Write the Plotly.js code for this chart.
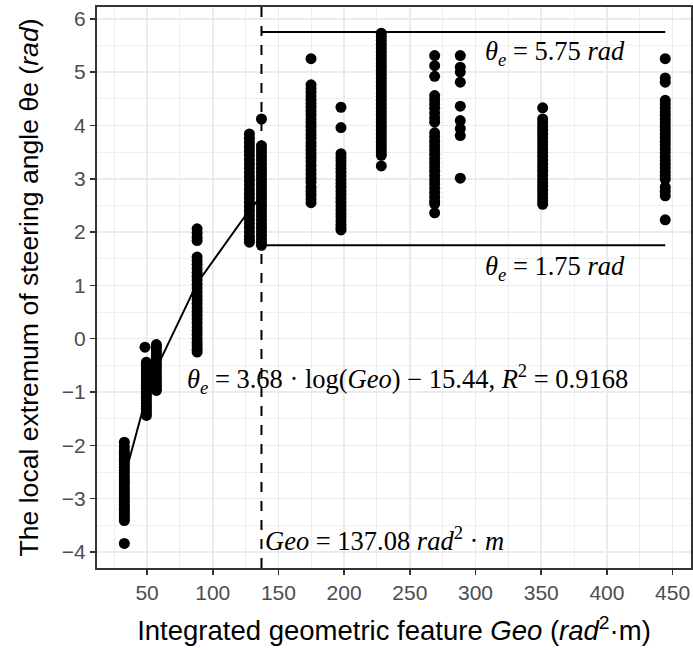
<!DOCTYPE html>
<html>
<head>
<meta charset="utf-8">
<script src="https://cdn.plot.ly/plotly-3.0.1.min.js"></script>
<style>
  html, body { margin: 0; padding: 0; background: #ffffff; }
  #chart { width: 693px; height: 650px; }
</style>
</head>
<body>
<div id="chart"></div>
<script>
// Integrated geometric feature (Geo) of each test group
const geoGroups = [32.7, 48.4, 49.5, 57.1, 88.1, 127.9, 137.08, 174.8, 197.6, 228.3, 268.9, 288.4, 351.1, 444.4];

// Local extremum of the steering angle observed in each group (rad)
const thetaGroups = [
  [-1.94, -2.02, -2.1, -2.15, -2.2, -2.26, -2.3, -2.36, -2.41, -2.47, -2.52, -2.58, -2.63, -2.68, -2.72,
   -2.78, -2.83, -2.88, -2.93, -2.98, -3.03, -3.08, -3.13, -3.18, -3.22, -3.27, -3.32, -3.36, -3.41, -3.84],
  [-0.16],
  [-0.44, -0.5, -0.55, -0.6, -0.66, -0.71, -0.77, -0.82, -0.88, -0.93, -0.99, -1.04, -1.1, -1.15, -1.21,
   -1.27, -1.32, -1.38, -1.44],
  [-0.11, -0.16, -0.22, -0.28, -0.34, -0.4, -0.46, -0.52, -0.58, -0.64, -0.7, -0.76, -0.82, -0.88, -0.93, -0.97],
  [2.06, 1.98, 1.9, 1.84, 1.53, 1.46, 1.39, 1.31, 1.24, 1.17, 1.1, 1.02, 0.95, 0.88, 0.8, 0.73, 0.66, 0.58,
   0.51, 0.44, 0.37, 0.3, 0.22, 0.15, 0.08, 0.0, -0.07, -0.13, -0.2, -0.25],
  [3.84, 3.76, 3.68, 3.6, 3.52, 3.44, 3.36, 3.28, 3.2, 3.12, 3.04, 2.96, 2.88, 2.8, 2.72, 2.64, 2.56, 2.48,
   2.4, 2.32, 2.24, 2.16, 2.08, 2.0, 1.92, 1.86, 1.81],
  [4.12, 3.62, 3.55, 3.48, 3.41, 3.34, 3.27, 3.2, 3.13, 3.06, 2.99, 2.92, 2.85, 2.78, 2.71, 2.64, 2.57, 2.5,
   2.43, 2.36, 2.29, 2.22, 2.15, 2.08, 2.01, 1.94, 1.87, 1.81, 1.75],
  [5.25, 4.76, 4.69, 4.62, 4.55, 4.48, 4.41, 4.34, 4.27, 4.2, 4.12, 4.05, 3.98, 3.9, 3.83, 3.76, 3.68, 3.61,
   3.54, 3.47, 3.4, 3.33, 3.25, 3.17, 3.09, 3.01, 2.94, 2.84, 2.77, 2.7, 2.62, 2.55],
  [4.34, 3.96, 3.47, 3.4, 3.33, 3.26, 3.19, 3.12, 3.05, 2.98, 2.91, 2.84, 2.77, 2.7, 2.63, 2.56, 2.49, 2.42,
   2.35, 2.28, 2.21, 2.14, 2.08, 2.04],
  [5.73, 5.66, 5.59, 5.52, 5.45, 5.38, 5.31, 5.24, 5.17, 5.1, 5.03, 4.96, 4.89, 4.82, 4.75, 4.68, 4.61, 4.54,
   4.47, 4.4, 4.33, 4.26, 4.19, 4.12, 4.05, 3.98, 3.91, 3.84, 3.77, 3.7, 3.63, 3.56, 3.5, 3.44, 3.24],
  [5.31, 5.12, 4.92, 4.56, 4.48, 4.4, 4.32, 4.23, 4.14, 4.06, 3.86, 3.78, 3.7, 3.62, 3.54, 3.46, 3.38, 3.3,
   3.22, 3.14, 3.06, 2.98, 2.9, 2.82, 2.74, 2.66, 2.58, 2.53, 2.36],
  [5.31, 5.09, 5.0, 4.81, 4.36, 4.09, 3.94, 3.81, 3.01],
  [4.33, 4.12, 4.05, 3.98, 3.91, 3.84, 3.77, 3.7, 3.63, 3.56, 3.49, 3.42, 3.35, 3.28, 3.21, 3.14, 3.07, 3.0,
   2.93, 2.86, 2.79, 2.72, 2.65, 2.58, 2.52],
  [5.25, 4.89, 4.81, 4.47, 4.4, 4.33, 4.26, 4.19, 4.12, 4.05, 3.98, 3.91, 3.84, 3.77, 3.7, 3.63, 3.56, 3.49,
   3.41, 3.34, 3.27, 3.2, 3.13, 3.06, 2.99, 2.84, 2.76, 2.68, 2.23]
];

// Log fit  θe = a·log(Geo) + b, evaluated at the observed Geo values below the threshold
const fitCoef = [3.68, -15.44];
const fitGeo = [32.7, 49.5, 57.1, 88.1, 127.9, 137.08];
const geoThreshold = 137.08;
const geoMax = 444.4;
const thetaUpper = 5.75;
const thetaLower = 1.75;
const rSquared = 0.9168;

const xTicks = [50, 100, 150, 200, 250, 300, 350, 400, 450];
const yTicks = [-4, -3, -2, -1, 0, 1, 2, 3, 4, 5, 6];

// flatten the grouped observations
const ptsX = [], ptsY = [];
geoGroups.forEach((g, i) => thetaGroups[i].forEach(v => { ptsX.push(g); ptsY.push(v); }));

const fitTheta = fitGeo.map(g => fitCoef[0] * Math.log(g) + fitCoef[1]);

const lineStyle = { color: '#000000', width: 2 };

const traces = [
  { x: fitGeo, y: fitTheta, mode: 'lines', line: lineStyle, hoverinfo: 'skip' },
  { x: [geoThreshold, geoMax], y: [thetaUpper, thetaUpper], mode: 'lines', line: lineStyle, hoverinfo: 'skip' },
  { x: [geoThreshold, geoMax], y: [thetaLower, thetaLower], mode: 'lines', line: lineStyle, hoverinfo: 'skip' },
  { x: ptsX, y: ptsY, mode: 'markers', marker: { color: '#000000', size: 11 }, hoverinfo: 'skip' }
];

const mathFont = { family: 'Liberation Serif, serif', size: 26.5, color: '#000000' };
const sansTitle = { family: 'Liberation Sans, Arial, sans-serif', size: 27.5, color: '#000000' };

const axisCommon = {
  showline: true, mirror: true, linecolor: '#333333', linewidth: 2,
  ticks: 'outside', ticklen: 5, tickwidth: 1.6, tickcolor: '#333333',
  showgrid: true, gridcolor: '#ebebeb', gridwidth: 1.6,
  zeroline: false, automargin: false,
  tickfont: { family: 'Liberation Sans, Arial, sans-serif', size: 21, color: '#4d4d4d' }
};

const layout = {
  width: 693, height: 650,
  margin: { l: 97, r: 2, t: 7, b: 82 },
  paper_bgcolor: '#ffffff', plot_bgcolor: '#ffffff',
  showlegend: false,
  xaxis: Object.assign({}, axisCommon, {
    range: [11.9, 464], tickmode: 'array', tickvals: xTicks,
    minor: { dtick: 25, tick0: 0, showgrid: true, gridcolor: '#ebebeb', gridwidth: 0.8, ticks: '' },
    title: { text: 'Integrated geometric feature <i>Geo</i> (<i>rad</i><sup>2</sup>·m)', standoff: 18, font: sansTitle }
  }),
  yaxis: Object.assign({}, axisCommon, {
    range: [-4.3, 6.22], tickmode: 'array', tickvals: yTicks,
    minor: { dtick: 0.5, tick0: 0, showgrid: true, gridcolor: '#ebebeb', gridwidth: 0.8, ticks: '' },
    title: { text: 'The local extremum of steering angle θe (<i>rad</i>)', standoff: 16,
             font: Object.assign({}, sansTitle, { size: 26.6 }) }
  }),
  shapes: [
    { type: 'line', xref: 'x', yref: 'paper', x0: geoThreshold, x1: geoThreshold, y0: 0, y1: 1,
      line: { color: '#000000', width: 2, dash: '10px,9px' } }
  ],
  annotations: [
    { x: 360.5, y: 5.35, xref: 'x', yref: 'y', showarrow: false, font: mathFont,
      text: '<i>θ<sub>e</sub></i> = ' + thetaUpper.toFixed(2) + ' <i>rad</i>' },
    { x: 360.5, y: 1.33, xref: 'x', yref: 'y', showarrow: false, font: mathFont,
      text: '<i>θ<sub>e</sub></i> = ' + thetaLower.toFixed(2) + ' <i>rad</i>' },
    { x: 248.5, y: -0.76, xref: 'x', yref: 'y', showarrow: false, font: mathFont,
      text: '<i>θ<sub>e</sub></i> = ' + fitCoef[0].toFixed(2) + ' · log(<i>Geo</i>) − ' +
            Math.abs(fitCoef[1]).toFixed(2) + ', <i>R</i><sup>2</sup> = ' + rSquared.toFixed(4) },
    { x: geoThreshold + 1.2, y: -3.76, xref: 'x', yref: 'y', xanchor: 'left', showarrow: false, font: mathFont,
      text: '<i>Geo</i> = ' + geoThreshold.toFixed(2) + ' <i>rad</i><sup>2</sup> · <i>m</i>' }
  ]
};

Plotly.newPlot('chart', traces, layout, { staticPlot: true, displayModeBar: false });
</script>
</body>
</html>
